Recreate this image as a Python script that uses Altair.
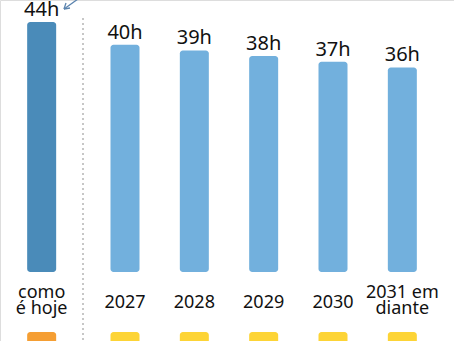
import altair as alt
import pandas as pd

categorias = ["como\né hoje", "2027", "2028", "2029", "2030", "2031 em\ndiante"]
horas = [44, 40, 39, 38, 37, 36]
rotulos = ["44h", "40h", "39h", "38h", "37h", "36h"]
grupo = ["hoje", "futuro", "futuro", "futuro", "futuro", "futuro"]

df = pd.DataFrame({"cat": categorias, "horas": horas, "rotulo": rotulos, "grupo": grupo})

FONT = "Noto Sans"
x_scale = alt.Scale(domain=categorias, range=[21, 437], paddingInner=0, paddingOuter=0)
y_scale = alt.Scale(domain=[0, 44], range=[272, 22])
X = alt.X("cat:N", scale=x_scale, axis=None, sort=categorias)
Y = alt.Y("horas:Q", scale=y_scale, axis=None)

def layers(sub, off):
    base = alt.Chart(sub).transform_calculate(
        lines="split(datum.cat, '\\n')", n="length(split(datum.cat, '\\n'))"
    )
    bars = base.mark_bar(width=29, cornerRadius=3, xOffset=off).encode(
        x=X, y=Y, y2=alt.datum(0),
        color=alt.Color("grupo:N", scale=alt.Scale(domain=["hoje", "futuro"], range=["#4A8BB9", "#72B0DD"]), legend=None),
    )
    top = base.mark_text(font=FONT, fontSize=20, dy=-6, baseline="alphabetic", xOffset=off, color="#111").encode(
        x=X, y=Y, text="rotulo:N"
    )
    one = base.transform_filter("datum.n == 1").mark_text(
        font=FONT, fontSize=18, baseline="alphabetic", xOffset=off, color="#111"
    ).encode(x=X, y=alt.value(308), text="cat:N")
    two = base.transform_filter("datum.n == 2").mark_text(
        font=FONT, fontSize=18, baseline="alphabetic", lineHeight=16, xOffset=off, color="#111"
    ).encode(x=X, y=alt.value(298), text="lines:N")
    squares = base.mark_bar(width=29, cornerRadius=3, xOffset=off).encode(
        x=X, y=alt.value(332), y2=alt.value(352),
        color=alt.Color("grupo:N", scale=alt.Scale(domain=["hoje", "futuro"], range=["#F59E33", "#FDD436"]), legend=None),
    )
    return [bars, top, one, two, squares]

hoje = df[df.grupo == "hoje"]
futuro = df[df.grupo == "futuro"]

divider = alt.Chart(pd.DataFrame({"a": [0]})).mark_rule(color="#B5B5B5", strokeDash=[2, 3], strokeWidth=1.5).encode(
    x=alt.value(83), y=alt.value(18), y2=alt.value(341)
)
arrow = alt.Chart(pd.DataFrame({"a": [0]})).mark_rule(color="#5B84AE", strokeWidth=1.3).encode(
    x=alt.value(64), x2=alt.value(78), y=alt.value(9), y2=alt.value(-1)
)
head1 = alt.Chart(pd.DataFrame({"a": [0]})).mark_rule(color="#5B84AE", strokeWidth=1.3).encode(
    x=alt.value(64), x2=alt.value(70), y=alt.value(9), y2=alt.value(8)
)
head2 = alt.Chart(pd.DataFrame({"a": [0]})).mark_rule(color="#5B84AE", strokeWidth=1.3).encode(
    x=alt.value(64), x2=alt.value(66), y=alt.value(9), y2=alt.value(3)
)

chart = alt.layer(
    divider, *layers(hoje, -14), *layers(futuro, 0), arrow, head1, head2
).resolve_scale(color="independent").properties(
    width=454, height=341, padding=0, autosize=alt.AutoSizeParams(type="none")
).configure_view(stroke=None).configure(background="white")

chart.save("out.html", embed_options={"renderer": "svg", "actions": False})
